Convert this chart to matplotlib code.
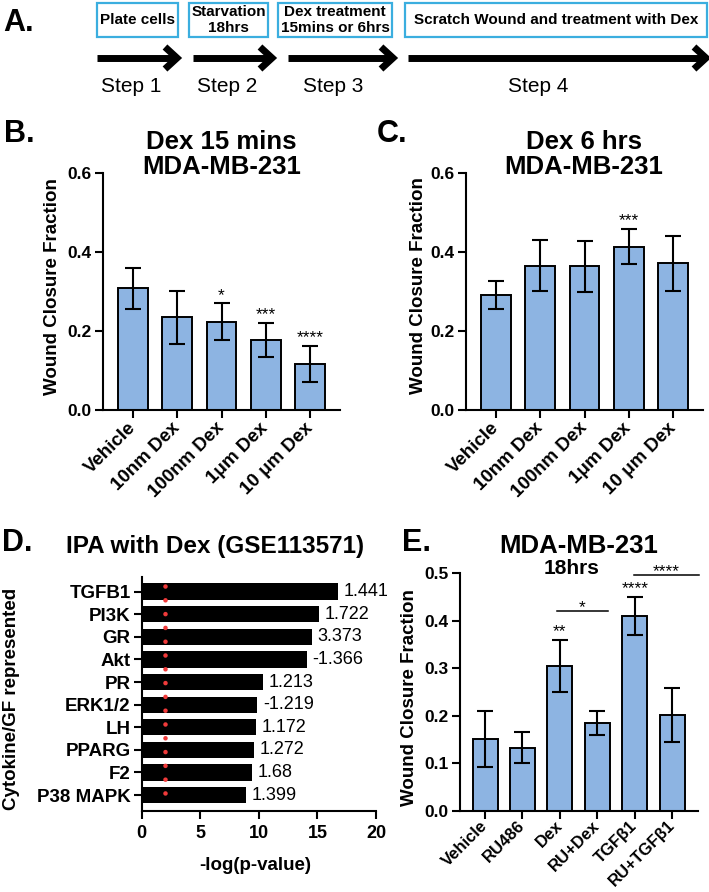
import numpy as np
import matplotlib
matplotlib.use("Agg")
import matplotlib.pyplot as plt
from matplotlib.patches import Rectangle

plt.rcParams["font.family"] = ["Liberation Sans", "DejaVu Sans"]

# ---- data ----
step_labels = ["Step 1", "Step 2", "Step 3", "Step 4"]
box_texts = ["Plate cells", "Starvation\n18hrs", "Dex treatment\n15mins or 6hrs",
             "Scratch Wound and treatment with Dex"]

dose_labels = ["Vehicle", "10nm Dex", "100nm Dex", "1μm Dex", "10 μm Dex"]
b_mean = [0.308, 0.234, 0.223, 0.177, 0.116]
b_sd = [0.052, 0.068, 0.047, 0.043, 0.046]
b_sig = ["", "", "*", "***", "****"]

c_mean = [0.290, 0.365, 0.363, 0.413, 0.371]
c_sd = [0.035, 0.065, 0.065, 0.045, 0.069]
c_sig = ["", "", "", "***", ""]

ipa_targets = ["TGFB1", "PI3K", "GR", "Akt", "PR", "ERK1/2", "LH", "PPARG", "F2", "P38 MAPK"]
ipa_logp = [16.79, 15.13, 14.51, 14.08, 10.38, 9.87, 9.76, 9.59, 9.45, 8.90]
ipa_z = ["1.441", "1.722", "3.373", "-1.366", "1.213", "-1.219", "1.172", "1.272", "1.68", "1.399"]
ipa_cutoff = 2.0

e_groups = ["Vehicle", "RU486", "Dex", "RU+Dex", "TGFβ1", "RU+TGFβ1"]
e_mean = [0.150, 0.133, 0.305, 0.185, 0.411, 0.201]
e_sd = [0.059, 0.032, 0.055, 0.026, 0.040, 0.057]
e_sig = ["", "", "**", "", "****", ""]
e_compare = [(2, 3, "*"), (4, 5, "****")]

# ---- layout (pixels) ----
W, H = 709, 892
BAR = "#8DB4E2"
BOX = "#3BAEDF"

fig = plt.figure(figsize=(W / 100, H / 100), dpi=100)


def fx(x):
    return x / W


def fy(y):
    return 1 - y / H


def axes_px(left, top, right, bottom):
    return fig.add_axes([left / W, 1 - bottom / H, (right - left) / W, (bottom - top) / H])


def style_axes(ax):
    for s in ["top", "right"]:
        ax.spines[s].set_visible(False)
    for s in ["left", "bottom"]:
        ax.spines[s].set_linewidth(1.5)
    ax.tick_params(width=1.5, length=6, pad=2)


def wound_bars(ax, labels, means, sds, sigs, ymax, ystep, xlim, fs, xpad=5):
    x = np.arange(len(labels))
    ax.bar(x, means, 0.67, color=BAR, edgecolor="black", linewidth=1.4, zorder=2)
    ax.errorbar(x, means, yerr=sds, fmt="none", ecolor="black", elinewidth=1.5,
                capsize=5.5, capthick=1.5, zorder=3)
    for xi, m, e, s in zip(x, means, sds, sigs):
        if s:
            ax.annotate(s, (xi, m + e), xytext=(0, 2.5), textcoords="offset points",
                        ha="center", va="baseline", fontsize=12.5, annotation_clip=False)
    ax.set_xlim(*xlim)
    ax.set_ylim(0, ymax)
    yt = np.round(np.arange(0, ymax + 1e-9, ystep), 2)
    ax.set_yticks(yt, [f"{v:.1f}" for v in yt], fontsize=12.5, fontweight="bold")
    ax.set_xticks(x, labels, rotation=45, ha="right", va="center",
                  rotation_mode="anchor", fontsize=fs, fontweight="bold")
    style_axes(ax)
    ax.tick_params(axis="x", pad=xpad)


# ---- panel A ----
box_left = [97, 189, 278, 405]
box_right = [178, 268, 392, 707]
arrow_left = [97, 193, 288, 408]
arrow_right = [177, 272, 393, 706]
step_x = [131, 227, 333, 538]

ax_a = fig.add_axes([0, 1 - 105 / H, 1, 105 / H])
ax_a.set_xlim(0, W)
ax_a.set_ylim(105, 0)
ax_a.axis("off")
for l, r, t in zip(box_left, box_right, box_texts):
    ax_a.add_patch(Rectangle((l, 3), r - l, 34, fill=False, edgecolor=BOX, lw=1.6))
    ax_a.text((l + r) / 2, 20, t, ha="center", va="center", fontsize=11,
              fontweight="bold", linespacing=1.15)
for l, r in zip(arrow_left, arrow_right):
    ax_a.plot([l, r - 4], [58, 58], color="black", lw=5, solid_capstyle="butt")
    ax_a.plot([r - 12, r, r - 12], [47, 58, 69], color="black", lw=5,
              solid_joinstyle="miter", solid_capstyle="butt")
for sx, s in zip(step_x, step_labels):
    ax_a.text(sx, 87, s, ha="center", va="center", fontsize=15)

# ---- panel B ----
ax_b = axes_px(103, 172.7, 340, 410)
wound_bars(ax_b, dose_labels, b_mean, b_sd, b_sig, 0.6, 0.2, (-0.68, 4.68), 13.5)

# ---- panel C ----
ax_c = axes_px(466, 172.7, 703, 410)
wound_bars(ax_c, dose_labels, c_mean, c_sd, c_sig, 0.6, 0.2, (-0.68, 4.68), 13.5)

# ---- panel D ----
ax_d = axes_px(141.7, 576.7, 376, 810.7)
yd = np.arange(len(ipa_targets))
ax_d.barh(yd, ipa_logp, height=0.72, color="black", zorder=2)
ax_d.plot([ipa_cutoff, ipa_cutoff], [-0.25, 9.45], color="#F03A3A", lw=3.3,
          ls=(0, (0.01, 3.0)), dash_capstyle="round", zorder=3)
for yi, v, z in zip(yd, ipa_logp, ipa_z):
    ax_d.annotate(z, (v, yi), xytext=(4, 0), textcoords="offset points",
                  ha="left", va="center", fontsize=13)
ax_d.set_xlim(0, 20)
ax_d.set_ylim(9.69, -0.66)
ax_d.set_yticks(yd, ipa_targets, fontsize=13.5, fontweight="bold")
ax_d.set_xticks([0, 5, 10, 15, 20], ["0", "5", "10", "15", "20"], fontsize=13, fontweight="bold")
style_axes(ax_d)
ax_d.tick_params(axis="x", pad=4)

# ---- panel E ----
ax_e = axes_px(460, 573.3, 698, 810.7)
wound_bars(ax_e, e_groups, e_mean, e_sd, e_sig, 0.5, 0.1, (-0.67, 5.69), 12, xpad=3)
bracket_y = [0.421, 0.496]
bracket_x = [(1.93, 3.28), (3.98, 5.71)]
for (i, j, s), by, (x0, x1) in zip(e_compare, bracket_y, bracket_x):
    ax_e.plot([x0, x1], [by, by], color="black", lw=1.1, clip_on=False)
    ax_e.annotate(s, ((x0 + x1) / 2, by), xytext=(0, -1), textcoords="offset points",
                  ha="center", va="baseline", fontsize=12.5, annotation_clip=False)

# ---- titles, axis labels, panel letters ----
title_kw = dict(ha="center", va="center", fontweight="bold")
fig.text(fx(221.7), fy(142), "Dex 15 mins", fontsize=18.5, **title_kw)
fig.text(fx(221.7), fy(167), "MDA-MB-231", fontsize=18.5, **title_kw)
fig.text(fx(584), fy(142), "Dex 6 hrs", fontsize=18.5, **title_kw)
fig.text(fx(584), fy(167), "MDA-MB-231", fontsize=18.5, **title_kw)
fig.text(fx(215), fy(547), "IPA with Dex (GSE113571)", fontsize=17.5, **title_kw)
fig.text(fx(579), fy(546), "MDA-MB-231", fontsize=18.5, **title_kw)
fig.text(fx(571.7), fy(568), "18hrs", fontsize=15, **title_kw)

ylab_kw = dict(ha="center", va="center", rotation=90, fontsize=13.5, fontweight="bold")
fig.text(fx(53), fy(286.7), "Wound Closure Fraction", **ylab_kw)
fig.text(fx(418.3), fy(285.8), "Wound Closure Fraction", **ylab_kw)
fig.text(fx(409), fy(698), "Wound Closure Fraction", **ylab_kw)
fig.text(fx(12), fy(699), "Cytokine/GF represented", **ylab_kw)
fig.text(fx(255), fy(866), "-log(p-value)", ha="center", va="center",
         fontsize=13.5, fontweight="bold")

letter_kw = dict(ha="center", va="center", fontsize=22, fontweight="bold")
fig.text(fx(19), fy(23), "A.", **letter_kw)
fig.text(fx(19), fy(134), "B.", **letter_kw)
fig.text(fx(392), fy(134), "C.", **letter_kw)
fig.text(fx(17), fy(543), "D.", **letter_kw)
fig.text(fx(416), fy(543), "E.", **letter_kw)

fig.savefig("out.png", dpi=100)
